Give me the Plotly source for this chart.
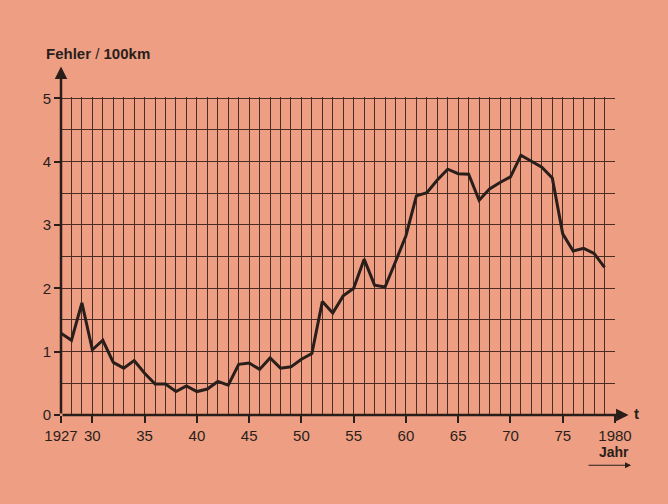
import plotly.graph_objects as go

years = list(range(1927, 1980))
fehler = [1.29, 1.18, 1.77, 1.03, 1.18, 0.83, 0.74, 0.86, 0.66, 0.49,
          0.49, 0.37, 0.46, 0.37, 0.41, 0.53, 0.47, 0.80, 0.82, 0.72,
          0.90, 0.74, 0.76, 0.88, 0.97, 1.79, 1.61, 1.88, 2.00, 2.46,
          2.05, 2.02, 2.42, 2.83, 3.46, 3.51, 3.71, 3.88, 3.81, 3.80,
          3.39, 3.57, 3.67, 3.76, 4.10, 4.01, 3.91, 3.74, 2.86, 2.59,
          2.63, 2.55, 2.33]
x_tickvals = [1927, 1930, 1935, 1940, 1945, 1950, 1955, 1960, 1965, 1970, 1975, 1980]
x_ticktext = ["1927", "30", "35", "40", "45", "50", "55", "60", "65", "70", "75", "1980"]
y_tickvals = [0, 1, 2, 3, 4, 5]

BG = "#EE9F83"
GRID = "#4a2e26"
INK = "#2a1e1b"
FONT = "Liberation Sans, Arial, sans-serif"

fig = go.Figure()
fig.add_trace(go.Scatter(x=years, y=fehler, mode="lines",
                         line=dict(color=INK, width=3), hoverinfo="skip"))

fig.update_layout(
    width=668, height=504,
    margin=dict(l=61, r=53, t=97, b=89),
    paper_bgcolor=BG, plot_bgcolor=BG,
    showlegend=False,
    font=dict(family=FONT, size=15, color=INK),
    xaxis=dict(range=[1927, 1980], tickvals=x_tickvals, ticktext=x_ticktext,
               showgrid=True, gridcolor=GRID, gridwidth=1,
               minor=dict(dtick=1, tick0=1927, showgrid=True, gridcolor=GRID, gridwidth=1),
               ticks="outside", ticklen=7, tickwidth=2, tickcolor=INK,
               zeroline=False, showline=False,
               tickfont=dict(family=FONT, size=15, color=INK)),
    yaxis=dict(range=[0, 5.02], tickvals=y_tickvals,
               showgrid=True, gridcolor=GRID, gridwidth=1,
               minor=dict(dtick=0.5, tick0=0, showgrid=True, gridcolor=GRID, gridwidth=1),
               ticks="outside", ticklen=6, tickwidth=2, tickcolor=INK,
               zeroline=False, showline=False,
               tickfont=dict(family=FONT, size=15, color=INK)),
)

# axis lines with arrows
fig.add_annotation(x=1927, y=5.5, ax=1927, ay=0, xref="x", yref="y", axref="x", ayref="y",
                   text="", showarrow=True, arrowhead=2, arrowsize=1, arrowwidth=2.5, arrowcolor=INK)
fig.add_annotation(x=1981.3, y=0, ax=1927, ay=0, xref="x", yref="y", axref="x", ayref="y",
                   text="", showarrow=True, arrowhead=2, arrowsize=1, arrowwidth=2.5, arrowcolor=INK)

fig.add_annotation(x=-0.031, y=1.136, xref="paper", yref="paper", xanchor="left", yanchor="middle",
                   text="<b>Fehler</b> / <b>100km</b>", showarrow=False,
                   font=dict(family=FONT, size=15, color=INK))
fig.add_annotation(x=1.030, y=0.005, xref="paper", yref="paper", xanchor="left", yanchor="middle",
                   text="<b>t</b>", showarrow=False, font=dict(family=FONT, size=15, color=INK))
fig.add_annotation(x=1.029, y=-0.117, xref="paper", yref="paper", xanchor="right", yanchor="middle",
                   text="<b>Jahr</b>", showarrow=False, font=dict(family=FONT, size=14, color=INK))
fig.add_annotation(x=1.029, y=-0.158, xref="paper", yref="paper", ax=-44, ay=0,
                   text="", showarrow=True, arrowhead=2, arrowsize=1, arrowwidth=1.2, arrowcolor=INK)

fig.write_html("out.html", config={"displayModeBar": False},
               post_script="document.body.style.margin='0';document.body.style.background='" + BG + "';")
